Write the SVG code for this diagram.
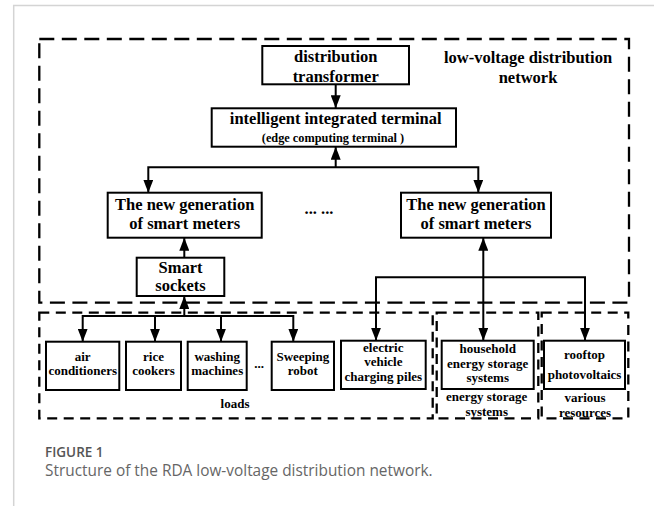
<svg xmlns="http://www.w3.org/2000/svg" width="654" height="506" viewBox="0 0 654 506">
<style>
.bg{fill:#ffffff}
.frame{stroke:#d4d4d4;stroke-width:1.5;fill:none}
.box{fill:#ffffff;stroke:#000;stroke-width:2}
.dash{fill:none;stroke:#000;stroke-width:2.3;stroke-dasharray:15 7.5}
.dash2{fill:none;stroke:#000;stroke-width:2.3;stroke-dasharray:10 6.5}
.t{font-family:"Liberation Serif","Times New Roman",serif;font-weight:bold;fill:#000;text-anchor:middle}
.L{font-size:16.5px}
.M{font-size:12.3px}
.S{font-size:13px}
.con{fill:none;stroke:#000;stroke-width:2}
.cap1{font-family:"Open Sans","Noto Sans",sans-serif;font-size:13.5px;font-weight:600;fill:#555}
.cap2{font-family:"Open Sans","Noto Sans",sans-serif;font-size:15.4px;fill:#666}
</style>
<defs>
<marker id="ah" markerUnits="userSpaceOnUse" markerWidth="13" markerHeight="10" refX="13" refY="5" orient="auto-start-reverse">
<path d="M0,0 L13,5 L0,10 z" fill="#000"/>
</marker>
</defs>
<rect class="bg" x="0" y="0" width="654" height="506"/>
<path class="frame" d="M13.7,506 V5.4 H654"/>

<g id="regions">
<rect class="dash" x="39.3" y="39" width="589.7" height="263.7"/>
<rect class="dash2" x="39.3" y="312.7" width="393.4" height="105.6"/>
<rect class="dash2" x="436.7" y="312.7" width="101.6" height="105.6"/>
<rect class="dash2" x="541.7" y="312.7" width="86.6" height="105.6"/>
</g>

<g id="connectors">
<path class="con" d="M335.7,84.3 V108.3" marker-end="url(#ah)"/>
<path class="con" d="M335.7,167.3 V146.7" marker-end="url(#ah)"/>
<path class="con" d="M148.3,192.7 V167.3 H478.3 V192.7" marker-start="url(#ah)" marker-end="url(#ah)"/>
<path class="con" d="M184.3,257.7 V237.7" marker-end="url(#ah)"/>
<path class="con" d="M184.3,316 V296" marker-end="url(#ah)"/>
<path class="con" d="M82.7,341.7 V316 H293.3 V341.7" marker-start="url(#ah)" marker-end="url(#ah)"/>
<path class="con" d="M155,316 V341.7" marker-end="url(#ah)"/>
<path class="con" d="M221,316 V341.7" marker-end="url(#ah)"/>
<path class="con" d="M376,340.7 V277.3 H585 V340.7" marker-start="url(#ah)" marker-end="url(#ah)"/>
<path class="con" d="M483.3,340.7 V237.7" marker-start="url(#ah)" marker-end="url(#ah)"/>
</g>

<g id="transformer">
<rect class="box" x="262.3" y="46" width="146.7" height="38.3"/>
<text class="t L" x="335.7" y="61.5">distribution</text>
<text class="t L" x="335.7" y="81.5">transformer</text>
</g>

<g id="network-label">
<text class="t L" x="528" y="63.3">low-voltage distribution</text>
<text class="t L" x="528" y="82.7">network</text>
</g>

<g id="terminal">
<rect class="box" x="211.7" y="108.3" width="244.3" height="38.4"/>
<text class="t L" x="335.7" y="123.5">intelligent integrated terminal</text>
<text class="t M" x="333" y="141.5">(edge computing terminal )</text>
</g>

<g id="meter-left">
<rect class="box" x="107.7" y="192.7" width="154" height="45"/>
<text class="t L" x="184.7" y="209.5">The new generation</text>
<text class="t L" x="184.7" y="229">of smart meters</text>
</g>

<g id="ellipsis-meters">
<text class="t L" x="319" y="214">... ...</text>
</g>

<g id="meter-right">
<rect class="box" x="401" y="192.7" width="150" height="45"/>
<text class="t L" x="476" y="209.5">The new generation</text>
<text class="t L" x="476" y="229">of smart meters</text>
</g>

<g id="smart-sockets">
<rect class="box" x="136.7" y="257.7" width="87.6" height="38.3"/>
<text class="t L" x="180.5" y="272.7">Smart</text>
<text class="t L" x="180.5" y="291">sockets</text>
</g>

<g id="air-conditioners">
<rect class="box" x="46" y="341.7" width="73.3" height="48.3"/>
<text class="t S" x="82.7" y="360.7">air</text>
<text class="t S" x="82.7" y="375">conditioners</text>
</g>

<g id="rice-cookers">
<rect class="box" x="126" y="341.7" width="55" height="48.3"/>
<text class="t S" x="153.5" y="360.7">rice</text>
<text class="t S" x="153.5" y="375">cookers</text>
</g>

<g id="washing-machines">
<rect class="box" x="187.7" y="341.7" width="59" height="48.3"/>
<text class="t S" x="217.2" y="360.7">washing</text>
<text class="t S" x="217.2" y="375">machines</text>
</g>

<g id="ellipsis-loads">
<text class="t S" x="259" y="368">...</text>
</g>

<g id="sweeping-robot">
<rect class="box" x="271.7" y="341.7" width="62.3" height="48.3"/>
<text class="t S" x="302.8" y="360.7">Sweeping</text>
<text class="t S" x="302.8" y="375">robot</text>
</g>

<g id="ev-charging">
<rect class="box" x="341" y="340.7" width="84.7" height="48.3"/>
<text class="t S" x="383.3" y="351.7">electric</text>
<text class="t S" x="383.3" y="366">vehicle</text>
<text class="t S" x="383.3" y="380.5">charging piles</text>
</g>

<g id="household-storage">
<rect class="box" x="441.7" y="340.7" width="92" height="48.3"/>
<text class="t S" x="487.7" y="353">household</text>
<text class="t S" x="487.7" y="367.5">energy storage</text>
<text class="t S" x="487.7" y="382">systems</text>
</g>

<g id="rooftop-pv">
<rect class="box" x="544" y="340.7" width="81" height="48.3"/>
<text class="t S" x="584.5" y="359">rooftop</text>
<text class="t S" x="584.5" y="379.3">photovoltaics</text>
</g>

<g id="group-labels">
<text class="t S" x="235" y="408.3">loads</text>
<text class="t S" x="486.7" y="401">energy storage</text>
<text class="t S" x="486.7" y="416">systems</text>
<text class="t S" x="585" y="401.7">various</text>
<text class="t S" x="585" y="416.7">resources</text>
</g>

<g id="caption">
<text class="cap1" x="45" y="457">FIGURE 1</text>
<text class="cap2" x="45" y="476">Structure of the RDA low-voltage distribution network.</text>
</g>
</svg>
